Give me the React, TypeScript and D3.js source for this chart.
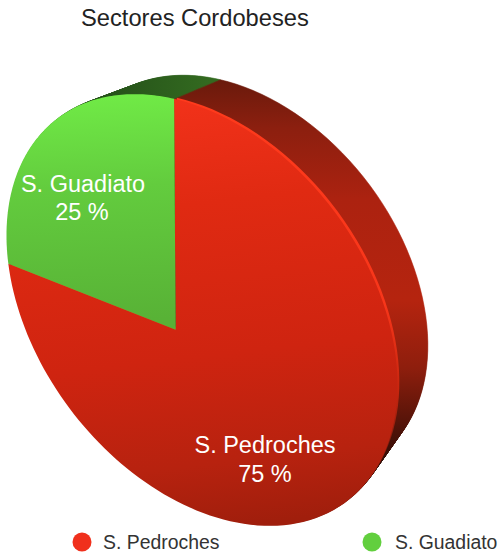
import React from "react";
import * as d3 from "d3";

const categories = ["S. Pedroches", "S. Guadiato"];
const values = [75, 25];
const labels = ["75 %", "25 %"];

const E = { cx: 202, cy: 310, a: 240, b: 165, phi: (53 * Math.PI) / 180, beta: 0.2 };
const BACK = { dx: 44, dy: -34, scale: 0.93 };
const START = (-132.2 * Math.PI) / 180;
const LAYERS = 44;

function project(theta: number, r: number, t: number): [number, number] {
  const x0 = r * Math.cos(theta);
  const y0 = r * Math.sin(theta);
  const d = 1 + E.beta * y0;
  const x = (x0 * Math.sqrt(1 - E.beta * E.beta)) / d;
  const y = (y0 + E.beta) / d;
  const px = x * E.a;
  const py = y * E.b;
  const c = Math.cos(E.phi);
  const s = Math.sin(E.phi);
  const sc = 1 + (BACK.scale - 1) * t;
  return [
    E.cx + BACK.dx * t + sc * (px * c - py * s),
    E.cy + BACK.dy * t + sc * (px * s + py * c),
  ];
}

const slices = d3.pie<number>().sort(null).startAngle(0).endAngle(2 * Math.PI)(values);
const line = d3.line();

function wedge(a0: number, a1: number, t: number): string {
  const pts: [number, number][] = [project(0, 0, t)];
  const n = 120;
  d3.range(n + 1).forEach((i) => {
    pts.push(project(START + a0 + ((a1 - a0) * i) / n, 1, t));
  });
  return line(pts) + "Z";
}

const layerTs = d3.range(LAYERS, 0, -1).map((i) => i / LAYERS);

function Stops({ stops }: { stops: [number, string][] }) {
  return (
    <>
      {stops.map(([o, c]) => (
        <stop key={o} offset={o} stopColor={c} />
      ))}
    </>
  );
}

export default function App() {
  const font = "'Liberation Sans', Arial, sans-serif";
  return (
    <svg
      width={499}
      height={557}
      viewBox="0 0 499 557"
      style={{ position: "absolute", left: 0, top: 0, background: "#fff" }}
    >
      <defs>
        <linearGradient id="sideRed" gradientUnits="userSpaceOnUse" x1="0" y1="80" x2="0" y2="480">
          <Stops stops={[[0, "#6a1a0c"], [0.12, "#8c1f0f"], [0.3, "#ac2210"], [0.55, "#b5240f"], [0.72, "#8e1e0d"], [0.88, "#4c1208"], [1, "#240a04"]]} />
        </linearGradient>
        <linearGradient id="sideGreen" gradientUnits="userSpaceOnUse" x1="60" y1="0" x2="210" y2="0">
          <Stops stops={[[0, "#1f4716"], [1, "#336a20"]]} />
        </linearGradient>
        <linearGradient id="faceRed" gradientUnits="userSpaceOnUse" x1="190" y1="95" x2="240" y2="526">
          <Stops stops={[[0, "#f2321a"], [0.25, "#e02a12"], [0.6, "#cf2410"], [0.85, "#b7220f"], [1, "#a01e0c"]]} />
        </linearGradient>
        <linearGradient id="rimRed" gradientUnits="userSpaceOnUse" x1="0" y1="100" x2="0" y2="440">
          <Stops stops={[[0, "#ff3a1c"], [0.6, "#f8361a"], [0.85, "#c8260f"], [1, "#8a1c0c"]]} />
        </linearGradient>
        <linearGradient id="faceGreen" gradientUnits="userSpaceOnUse" x1="120" y1="95" x2="130" y2="320">
          <Stops stops={[[0, "#70ea46"], [0.4, "#63cc3e"], [1, "#58b236"]]} />
        </linearGradient>
      </defs>

      <text x={81} y={26} fontFamily={font} fontSize={23.7} fill="#222">Sectores Cordobeses</text>

      {layerTs.map((t) => (
        <g key={t}>
          {slices.map((s, i) => (
            <path
              key={i}
              d={wedge(s.startAngle, s.endAngle, t)}
              fill={i === 0 ? "url(#sideRed)" : "url(#sideGreen)"}
              stroke={i === 0 ? "url(#sideRed)" : "url(#sideGreen)"}
              strokeWidth={0.6}
            />
          ))}
        </g>
      ))}

      <path d={wedge(slices[0].startAngle, slices[0].endAngle, 0.06)} fill="url(#rimRed)" />
      {slices.map((s, i) => (
        <path key={i} d={wedge(s.startAngle, s.endAngle, 0)} fill={i === 0 ? "url(#faceRed)" : "url(#faceGreen)"} />
      ))}

      <g fontFamily={font} fontSize={23.5} fill="#fff" textAnchor="middle">
        <text x={83} y={192}>{categories[1]}</text>
        <text x={82} y={220}>{labels[1]}</text>
        <text x={265} y={453}>{categories[0]}</text>
        <text x={265} y={482}>{labels[0]}</text>
      </g>

      <g fontFamily={font} fontSize={19.4} fill="#333">
        <circle cx={82} cy={542} r={9.5} fill="#f0301c" />
        <text x={103} y={549}>{categories[0]}</text>
        <circle cx={372} cy={542} r={9.5} fill="#62cf3e" />
        <text x={395} y={549}>{categories[1]}</text>
      </g>
    </svg>
  );
}
